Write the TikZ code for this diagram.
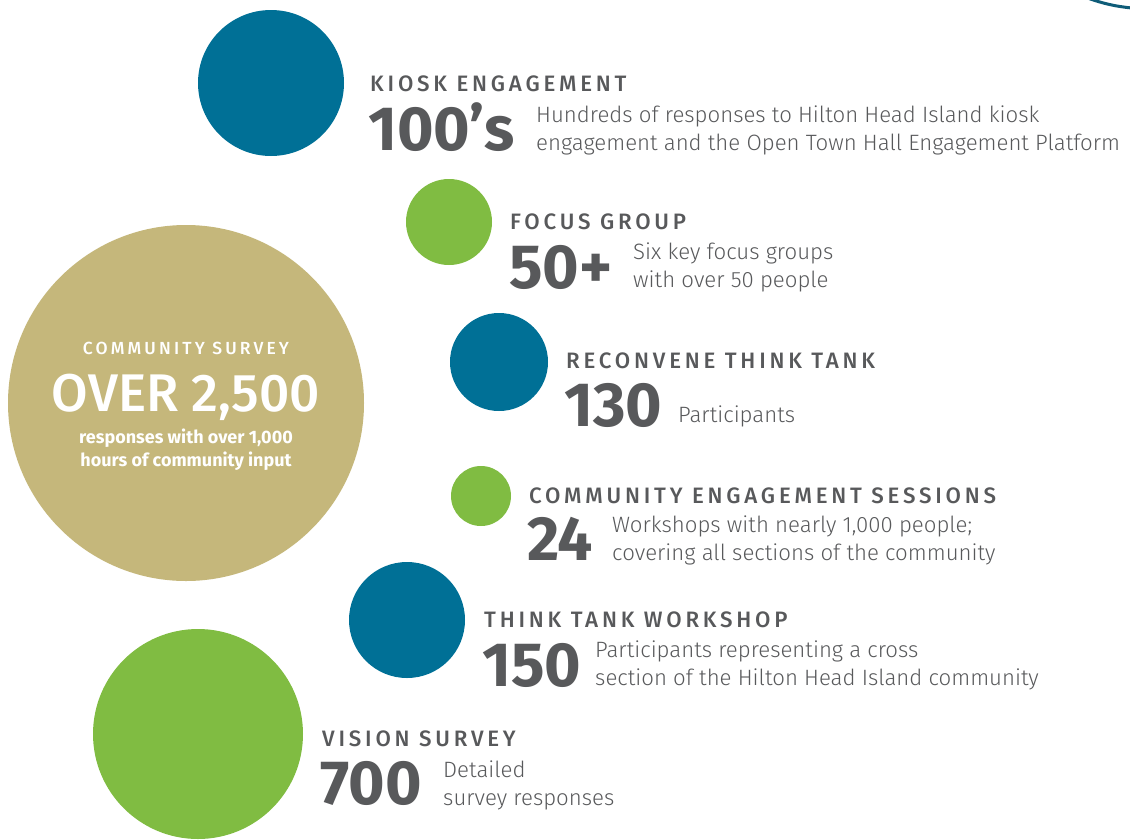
\documentclass[tikz,border=0pt]{standalone}
\usepackage{fontspec}
\setmainfont{Fira Sans}
\newfontfamily\lightfont{Fira Sans Light}
\newfontfamily\medfont{Fira Sans Medium}
\definecolor{cblue}{HTML}{007096}
\definecolor{cgreen}{HTML}{80BC42}
\definecolor{ctan}{HTML}{C5B77B}
\definecolor{cgray}{HTML}{58595B}
\definecolor{carc}{HTML}{0E5C78}
\newcommand{\hfnt}{\medfont\fontsize{22.3}{22.3}\selectfont\addfontfeature{LetterSpace=17}}
\newcommand{\bfnt}{\fontsize{62.5}{62.5}\selectfont\bfseries}
\newcommand{\dfnt}{\lightfont\fontsize{22.2}{26}\selectfont}
\begin{document}
\begin{tikzpicture}[x=1pt,y=-1pt,
  head/.style={anchor=base west,inner sep=0pt,text=cgray,font=\hfnt},
  big/.style={anchor=base west,inner sep=0pt,text=cgray,font=\bfnt},
  desc/.style={anchor=base west,inner sep=0pt,text=cgray,font=\dfnt},
  wtxt/.style={anchor=base,inner sep=0pt,text=white},
  dot/.style={circle,inner sep=0pt,minimum size=#1}]
\useasboundingbox (0,0) rectangle (1130,839);
\clip (0,0) rectangle (1130,839);
% circles
\node[dot=146pt,fill=cblue] (c1) at (271,83) {};
\node[dot=86pt,fill=cgreen] (c2) at (449,222) {};
\node[dot=98pt,fill=cblue] (c3) at (499,362) {};
\node[dot=60pt,fill=cgreen] (c4) at (481,496) {};
\node[dot=116pt,fill=cblue] (c5) at (407,620) {};
\node[dot=210pt,fill=cgreen] (c6) at (198,734) {};
\node[dot=356pt,fill=ctan] (c7) at (186,403) {};
\draw[carc,line width=3pt] (1089,-1.5) .. controls (1103,3.5) and (1116,6.5) .. (1132,8);
% survey text
\node[wtxt,font=\medfont\fontsize{17.5}{17.5}\selectfont\addfontfeature{LetterSpace=18}] (s1) at (186,354) {COMMUNITY SURVEY};
\node[wtxt,font=\medfont\fontsize{53}{53}\selectfont] (s2) at (186,411) {OVER 2,500};
\node[wtxt,font=\fontsize{18}{18}\selectfont\bfseries] (s3) at (186,443) {responses with over 1,000};
\node[wtxt,font=\fontsize{18}{18}\selectfont\bfseries] (s4) at (186,466) {hours of community input};
% kiosk
\node[head] (h1) at (370,91) {KIOSK ENGAGEMENT};
\node[big] (b1) at (368,150) {100’s};
\node[desc] (d1) at (536,122) {Hundreds of responses to Hilton Head Island kiosk};
\node[desc] (d1b) at (536,150) {engagement and the Open Town Hall Engagement Platform};
% focus
\node[head] (h2) at (510,229) {FOCUS GROUP};
\node[big] (b2) at (509,288) {50+};
\node[desc] (d2) at (633,259) {Six key focus groups};
\node[desc] (d2b) at (633,287) {with over 50 people};
% reconvene
\node[head] (h3) at (566,368) {RECONVENE THINK TANK};
\node[big] (b3) at (564,426) {130};
\node[desc] (d3) at (678,422) {Participants};
% CES
\node[head] (h4) at (529,503) {COMMUNITY ENGAGEMENT SESSIONS};
\node[big] (b4) at (527,560) {24};
\node[desc] (d4) at (612,532) {Workshops with nearly 1,000 people;};
\node[desc] (d4b) at (612,560) {covering all sections of the community};
% TTW
\node[head] (h5) at (484,627) {THINK TANK WORKSHOP};
\node[big] (b5) at (482,686) {150};
\node[desc] (d5) at (595,657) {Participants representing a cross};
\node[desc] (d5b) at (595,685) {section of the Hilton Head Island community};
% vision
\node[head] (h6) at (322,746) {VISION SURVEY};
\node[big] (b6) at (320,804) {700};
\node[desc] (d6) at (443,777) {Detailed};
\node[desc] (d6b) at (443,805) {survey responses};
\end{tikzpicture}
\end{document}
